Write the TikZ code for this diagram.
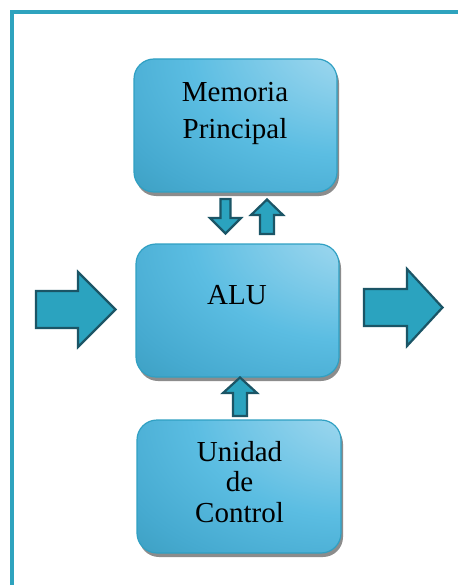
\documentclass[tikz,border=0pt]{standalone}
\usepackage{fontspec}
\setmainfont{Liberation Serif}
\usetikzlibrary{shadows}
\definecolor{boxB}{RGB}{48,160,195}
\definecolor{arrF}{RGB}{43,163,191}
\definecolor{arrD}{RGB}{27,85,102}
\definecolor{frameC}{RGB}{46,163,190}
\pgfdeclareradialshading{boxshade}{\pgfpoint{38bp}{38bp}}{%
  color(0bp)=(rgb,255:red,178;green,222;blue,240);
  color(15bp)=(rgb,255:red,150;green,212;blue,237);
  color(38bp)=(rgb,255:red,91;green,189;blue,226);
  color(55bp)=(rgb,255:red,70;green,170;blue,208);
  color(70bp)=(rgb,255:red,54;green,152;blue,184);
  color(90bp)=(rgb,255:red,46;green,140;blue,172);
  color(130bp)=(rgb,255:red,46;green,140;blue,172)}
\begin{document}
\begin{tikzpicture}[x=1pt,y=-1pt,
  gbox/.style={draw=boxB, line width=1.2pt, rounded corners=20pt, inner sep=0pt,
    shading=boxshade,
    drop shadow={shadow xshift=2pt, shadow yshift=-4pt, fill=black!45, opacity=1}},
  lbl/.style={font=\fontsize{29}{32}\selectfont, anchor=base, inner sep=0pt},
  barrow/.style={fill=arrF, draw=arrD, line width=2.2pt, line join=miter}]
\useasboundingbox (0,0) rectangle (458,585);
\fill[white] (0,0) rectangle (458,585);
% frame
\draw[frameC, line width=4pt] (12,585) -- (12,12) -- (458,12);
% boxes
\node[gbox, minimum width=203pt, minimum height=133pt] (mem) at (235.5,125.5) {};
\node[gbox, minimum width=203pt, minimum height=133pt] (alu) at (237.5,310.5) {};
\node[gbox, minimum width=204pt, minimum height=133pt] (uc) at (239,486.5) {};
% labels
\node[lbl] (mem1) at (235,101.7) {Memoria};
\node[lbl] (mem2) at (235,138.3) {Principal};
\node[lbl] (alu1) at (237,304) {ALU};
\node[lbl] (uc1) at (239.5,461.7) {Unidad};
\node[lbl] (uc2) at (239.5,491.7) {de};
\node[lbl] (uc3) at (239.5,522.3) {Control};
% block arrows
\draw[barrow] (36,291) -- (78,291) -- (78,272) -- (115.5,309.5) -- (78,347) -- (78,328) -- (36,328) -- cycle;
\draw[barrow] (364,289) -- (407,289) -- (407,269) -- (442.5,307.5) -- (407,346) -- (407,326) -- (364,326) -- cycle;
\draw[barrow] (220.5,199) -- (230.5,199) -- (230.5,218) -- (241,218) -- (225.5,233.5) -- (210,218) -- (220.5,218) -- cycle;
\draw[barrow] (260,234) -- (274,234) -- (274,215) -- (283,215) -- (267,199.5) -- (251,215) -- (260,215) -- cycle;
\draw[barrow] (233,416) -- (247,416) -- (247,393) -- (257,393) -- (240,377.5) -- (223,393) -- (233,393) -- cycle;
\end{tikzpicture}
\end{document}
